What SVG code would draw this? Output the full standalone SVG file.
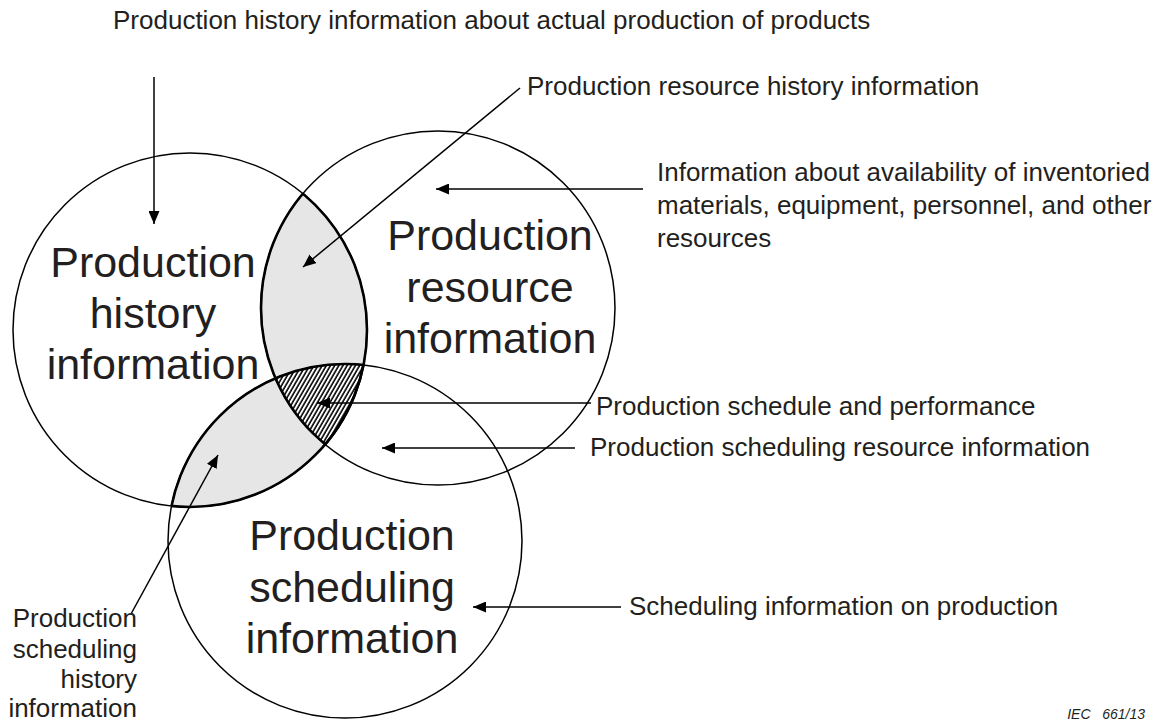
<svg xmlns="http://www.w3.org/2000/svg" width="1157" height="724" viewBox="0 0 1157 724">
<style>
  .big { font-family: "Liberation Sans", Arial, sans-serif; font-size: 43px; fill: #231f20; text-anchor: middle; }
  .lbl { font-family: "Liberation Sans", Arial, sans-serif; font-size: 26px; fill: #231f20; }
  .thin { fill: none; stroke: #000; stroke-width: 1.5; }
  .thick { fill: none; stroke: #000; stroke-width: 2.6; }
  .gray { fill: #e6e6e6; stroke: none; }
  .arrow { fill: none; stroke: #000; stroke-width: 1.5; marker-end: url(#ah); }
</style>
<defs>
  <marker id="ah" markerWidth="13" markerHeight="11" refX="13" refY="5.5" orient="auto" markerUnits="userSpaceOnUse">
    <path d="M0,0 L13,5.5 L0,11 Z" fill="#000"/>
  </marker>
  <pattern id="hatch" width="3.6" height="8" patternUnits="userSpaceOnUse" patternTransform="rotate(30)">
    <rect width="3.6" height="8" fill="#fff"/>
    <line x1="1" y1="0" x2="1" y2="8" stroke="#000" stroke-width="1.6"/>
  </pattern>
  <clipPath id="c1"><circle cx="190" cy="330" r="177"/></clipPath>
  <clipPath id="c2"><circle cx="438" cy="308" r="177"/></clipPath>
  <clipPath id="c3"><circle cx="345" cy="541" r="177"/></clipPath>
</defs>
<rect width="1157" height="724" fill="#fff"/>

<g id="overlaps">
  <circle class="gray" cx="438" cy="308" r="177" clip-path="url(#c1)"/>
  <circle class="gray" cx="345" cy="541" r="177" clip-path="url(#c1)"/>
  <g clip-path="url(#c1)">
    <circle cx="345" cy="541" r="177" fill="url(#hatch)" clip-path="url(#c2)"/>
  </g>
</g>

<g id="history">
  <circle class="thin" cx="190" cy="330" r="177"/>
  <text class="big" x="153" y="277">Production</text>
  <text class="big" x="153" y="328">history</text>
  <text class="big" x="153" y="379">information</text>
</g>
<g id="resource">
  <circle class="thin" cx="438" cy="308" r="177"/>
  <text class="big" x="490" y="250">Production</text>
  <text class="big" x="490" y="302">resource</text>
  <text class="big" x="490" y="353">information</text>
</g>
<g id="scheduling">
  <circle class="thin" cx="345" cy="541" r="177"/>
  <text class="big" x="352" y="550">Production</text>
  <text class="big" x="352" y="602">scheduling</text>
  <text class="big" x="352" y="653">information</text>
</g>

<g id="lens-outlines">
  <g clip-path="url(#c1)">
    <circle class="thick" cx="438" cy="308" r="177"/>
    <circle class="thick" cx="345" cy="541" r="177"/>
  </g>
  <circle class="thick" cx="190" cy="330" r="177" clip-path="url(#c2)"/>
  <circle class="thick" cx="190" cy="330" r="177" clip-path="url(#c3)"/>
</g>

<g id="connectors">
  <line class="arrow" x1="154" y1="77" x2="154" y2="224"/>
  <line class="arrow" x1="520" y1="88" x2="303" y2="267"/>
  <line class="arrow" x1="643" y1="189" x2="436" y2="189"/>
  <line class="arrow" x1="591" y1="403" x2="317" y2="403"/>
  <line class="arrow" x1="575" y1="448" x2="382" y2="448"/>
  <line class="arrow" x1="621" y1="607" x2="473" y2="607"/>
  <line class="arrow" x1="131" y1="614" x2="218" y2="455"/>
</g>

<g id="labels">
  <text class="lbl" x="113" y="29">Production history information about actual production of products</text>
  <text class="lbl" x="527" y="95">Production resource history information</text>
  <text class="lbl" x="657" y="181">Information about availability of inventoried</text>
  <text class="lbl" x="657" y="214">materials, equipment, personnel, and other</text>
  <text class="lbl" x="657" y="247">resources</text>
  <text class="lbl" x="596" y="415">Production schedule and performance</text>
  <text class="lbl" x="590" y="456">Production scheduling resource information</text>
  <text class="lbl" x="629" y="615">Scheduling information on production</text>
  <text class="lbl" x="137" y="627" text-anchor="end">Production</text>
  <text class="lbl" x="137" y="658" text-anchor="end">scheduling</text>
  <text class="lbl" x="137" y="688" text-anchor="end">history</text>
  <text class="lbl" x="137" y="717" text-anchor="end">information</text>
  <text x="1145" y="719" text-anchor="end" xml:space="preserve" font-family="Liberation Sans, Arial, sans-serif" font-size="14" font-style="italic" fill="#231f20">IEC   661/13</text>
</g>
</svg>
